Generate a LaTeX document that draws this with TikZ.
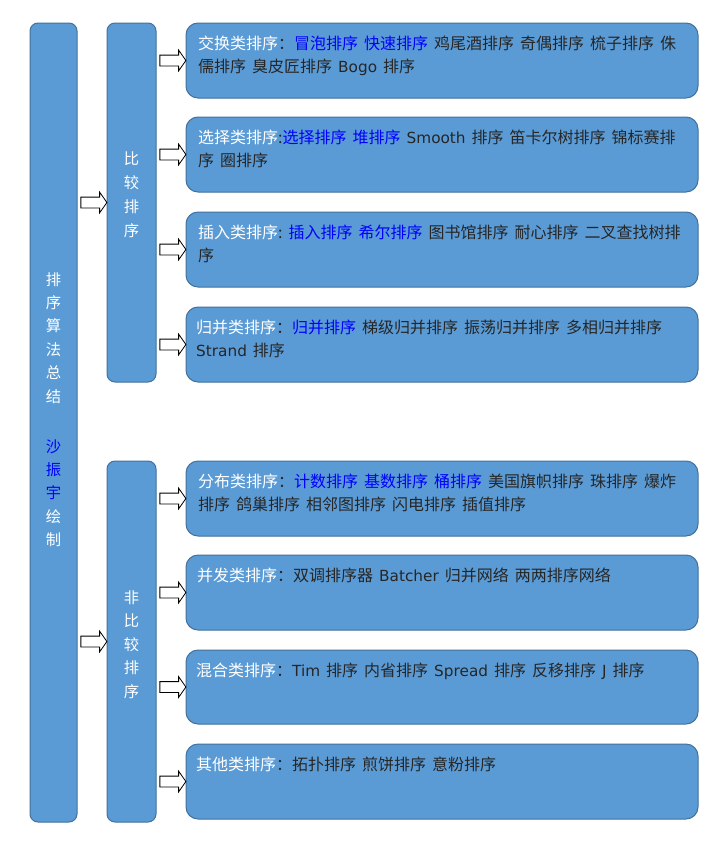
\documentclass[tikz,border=0pt]{standalone}
\usepackage{fontspec}
\setmainfont{Noto Sans CJK SC}
\newfontfamily\latinfont{DejaVu Sans}
\usetikzlibrary{shapes.arrows,calc}

\definecolor{boxfill}{HTML}{5B9BD5}
\definecolor{boxline}{HTML}{41719C}
\definecolor{linkblue}{HTML}{0000FF}
\definecolor{textdark}{HTML}{262626}

% text helpers
\newcommand\hd[1]{\textcolor{white}{#1}}
\newcommand\bl[1]{\textcolor{linkblue}{#1}}
\newcommand\lw[1]{{\latinfont\fontsize{15.3}{23.5}\selectfont #1}}
\newcommand\gp{\hspace{6pt}}

\tikzset{
  colbox/.style={draw=boxline, fill=boxfill, line width=1pt, rounded corners=8pt, inner sep=0pt},
  itembox/.style={draw=boxline, fill=boxfill, line width=1pt, rounded corners=12pt, inner sep=0pt},
  itemtext/.style={anchor=north west, inner sep=0pt, align=left, text=textdark,
    font=\fontsize{16}{23.5}\selectfont},
  coltext/.style={anchor=north, inner sep=0pt, align=center, text=white},
  blockarrow/.style={single arrow, draw=black, fill=white, line width=0.8pt,
    minimum height=26pt, inner sep=5pt, single arrow head extend=5pt,
    single arrow tip angle=110},
}

\begin{document}
\begin{tikzpicture}[x=1pt, y=-1pt]
\useasboundingbox (0,0) rectangle (722,846);
\fill[white] (0,0) rectangle (722,846);

% main column and the two groups
\node[colbox, minimum width=47pt, minimum height=799pt] (L) at (53.5,422.5) {};
\node[colbox, minimum width=49pt, minimum height=359pt] (M1) at (131.5,202.5) {};
\node[colbox, minimum width=49pt, minimum height=361pt] (M2) at (131.5,641.5) {};

\node[coltext, font=\fontsize{15.3}{23.4}\selectfont] (Ltext) at (53.5,272)
  {排\\序\\算\\法\\总\\结\\[26.6pt]\bl{沙}\\\bl{振}\\\bl{宇}\\绘\\制};
\node[coltext, font=\fontsize{15.3}{24}\selectfont] (M1text) at (131.5,152)
  {比\\较\\排\\序};
\node[coltext, font=\fontsize{15.3}{23.5}\selectfont] (M2text) at (131.5,590)
  {非\\比\\较\\排\\序};

% category boxes
\node[itembox, minimum width=512pt, minimum height=75pt] (R1) at (442,60.5) {};
\node[itembox, minimum width=512pt, minimum height=75pt] (R2) at (442,154.5) {};
\node[itembox, minimum width=512pt, minimum height=75pt] (R3) at (442,249.5) {};
\node[itembox, minimum width=512pt, minimum height=75pt] (R4) at (442,344.5) {};
\node[itembox, minimum width=512pt, minimum height=75pt] (R5) at (442,498.5) {};
\node[itembox, minimum width=512pt, minimum height=75pt] (R6) at (442,592.5) {};
\node[itembox, minimum width=512pt, minimum height=74pt] (R7) at (442,687) {};
\node[itembox, minimum width=512pt, minimum height=75pt] (R8) at (442,781.5) {};

\node[itemtext] (T1) at (198,35.5)
  {\hd{交换类排序}：\bl{冒泡排序}\gp\bl{快速排序}\gp 鸡尾酒排序\gp 奇偶排序\gp 梳子排序\gp 侏\\
   儒排序\gp 臭皮匠排序\gp\lw{Bogo}\gp 排序};
\node[itemtext] (T2) at (198,129.5)
  {\hd{选择类排序}:\bl{选择排序}\gp\bl{堆排序}\gp\lw{Smooth}\gp 排序\gp 笛卡尔树排序\gp 锦标赛排\\
   序\gp 圈排序};
\node[itemtext] (T3) at (198,224.5)
  {\hd{插入类排序}:\gp\bl{插入排序}\gp\bl{希尔排序}\gp 图书馆排序\gp 耐心排序\gp 二叉查找树排\\
   序};
\node[itemtext] (T4) at (196,319.5)
  {\hd{归并类排序}：\bl{归并排序}\gp 梯级归并排序\gp 振荡归并排序\gp 多相归并排序\\
   \lw{Strand}\gp 排序};
\node[itemtext] (T5) at (198,473.5)
  {\hd{分布类排序}：\bl{计数排序}\gp\bl{基数排序}\gp\bl{桶排序}\gp 美国旗帜排序\gp 珠排序\gp 爆炸\\
   排序\gp 鸽巢排序\gp 相邻图排序\gp 闪电排序\gp 插值排序};
\node[itemtext] (T6) at (197,567.5)
  {\hd{并发类排序}：双调排序器\gp\lw{Batcher}\gp 归并网络\gp 两两排序网络};
\node[itemtext] (T7) at (196,662.5)
  {\hd{混合类排序}：\lw{Tim}\gp 排序\gp 内省排序\gp\lw{Spread}\gp 排序\gp 反移排序\gp\lw{J}\gp 排序};
\node[itemtext] (T8) at (196,756.5)
  {\hd{其他类排序}：拓扑排序\gp 煎饼排序\gp 意粉排序};

% block arrows between columns
\node[blockarrow] (A1) at ($(L.east |- M1.center)!0.5!(M1.west)$) {};
\node[blockarrow] (A2) at ($(L.east |- M2.center)!0.5!(M2.west)$) {};
\foreach \g/\r in {M1/R1, M1/R2, M1/R3, M1/R4, M2/R5, M2/R6, M2/R7, M2/R8}{
  \node[blockarrow] (B\r) at ($(\g.east |- \r.west)!0.5!(\r.west)$) {};
}
\end{tikzpicture}
\end{document}
